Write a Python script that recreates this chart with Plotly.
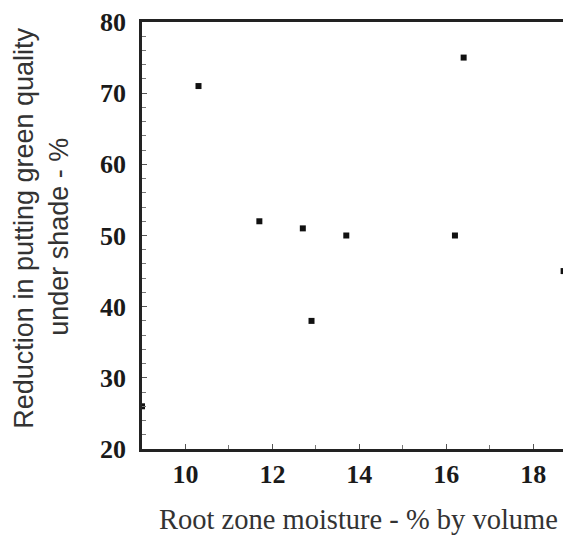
import plotly.graph_objects as go

moisture = [9.0, 10.3, 11.7, 12.7, 12.9, 13.7, 16.2, 16.4, 18.7]
reduction = [26, 71, 52, 51, 38, 50, 50, 75, 45]

x_ticks = [10, 12, 14, 16, 18]
y_ticks = [20, 30, 40, 50, 60, 70, 80]

# page body has an 8px margin; compensate so the plot lands where the reference has it
W, H = 563, 527
L, R, T, B = 134, 0, 14, 86

fig = go.Figure(go.Scatter(
    x=moisture, y=reduction, mode="markers",
    marker=dict(symbol="square", size=6, color="#111111"),
    cliponaxis=False,
))

serif = "Liberation Serif, Times New Roman, serif"
sans = "Liberation Sans, Arial, sans-serif"
axis_common = dict(
    showline=True, linecolor="#222222", linewidth=2.5,
    ticks="inside", ticklen=5, tickcolor="#555555", tickwidth=1,
    showgrid=False, zeroline=False,
    tickfont=dict(family=serif, size=26, color="#1a1a1a", weight="bold"),
)

fig.update_layout(
    width=W, height=H,
    margin=dict(l=L, r=R, t=T, b=B, pad=0),
    paper_bgcolor="white", plot_bgcolor="white",
    showlegend=False,
    xaxis=dict(range=[9.0, 18.87], tickvals=x_ticks, mirror=True,
               minor=dict(dtick=1, tick0=9, ticks="inside", ticklen=4, tickcolor="#777777"),
               ticklabelstandoff=0, **axis_common),
    yaxis=dict(range=[20, 80], tickvals=y_ticks,
               minor=dict(dtick=2, tick0=20, ticks="inside", ticklen=4, tickcolor="#777777"),
               ticklabelstandoff=8, **axis_common),
    annotations=[
        dict(text="Root zone moisture - % by volume", xref="paper", yref="paper",
             x=0.505, y=-0.166, showarrow=False, xanchor="center", yanchor="middle",
             font=dict(family=serif, size=28.5, color="#333333")),
        dict(text="Reduction in putting green quality", xref="paper", yref="paper",
             x=-0.275, y=0.516, showarrow=False, xanchor="center", yanchor="middle",
             textangle=-90,
             font=dict(family=sans, size=27, color="#333333")),
        dict(text="under shade - %", xref="paper", yref="paper",
             x=-0.192, y=0.496, showarrow=False, xanchor="center", yanchor="middle",
             textangle=-90,
             font=dict(family=sans, size=27, color="#333333")),
    ],
)

fig.write_html("out.html")
